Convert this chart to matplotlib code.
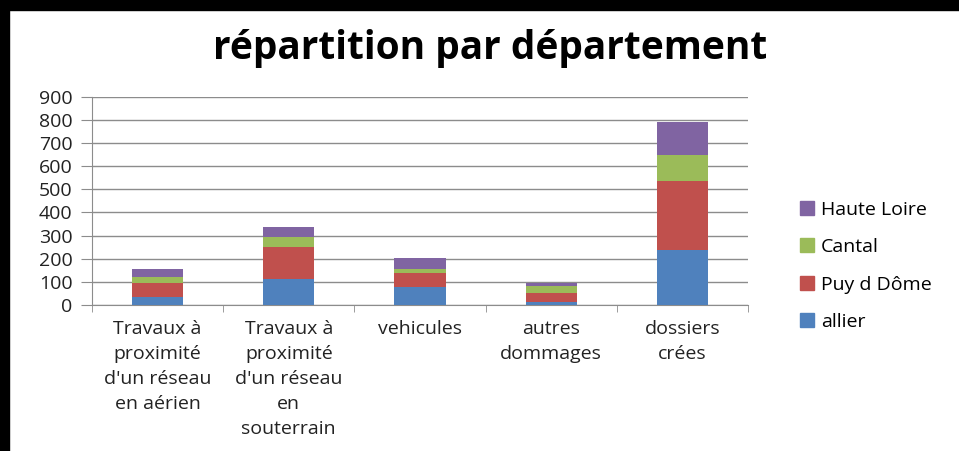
#!/usr/bin/env python3

import numpy as np
import matplotlib.pyplot as plt
from matplotlib.patches import Rectangle
from matplotlib.lines import Line2D

categories = ["Travaux à\nproximité\nd'un réseau\nen aérien",
              "Travaux à\nproximité\nd'un réseau\nen\nsouterrain",
              "vehicules",
              "autres\ndommages",
              "dossiers\ncrées"]

allier = [36, 112, 79, 12, 239]
puy_de_dome = [61, 137, 61, 41, 296]
cantal = [23, 43, 17, 31, 112]
haute_loire = [36, 45, 45, 13, 143]

series = [("allier", allier, "#4f81bd"),
          ("Puy d Dôme", puy_de_dome, "#c0504d"),
          ("Cantal", cantal, "#9bbb59"),
          ("Haute Loire", haute_loire, "#8064a2")]

plt.rcParams['font.family'] = ['Open Sans', 'DejaVu Sans']

fig = plt.figure(figsize=(9.59, 4.51), dpi=100)
ax = fig.add_axes([92 / 959, 1 - 305 / 451, (748 - 92) / 959, (305 - 96.7) / 451])

x = np.arange(len(categories))
bottom = np.zeros(len(categories))
for name, vals, col in series:
    ax.bar(x, vals, bottom=bottom, width=0.39, color=col, label=name, zorder=3)
    bottom = bottom + np.array(vals)

ax.set_xlim(-0.5, len(categories) - 0.5)
ax.set_ylim(0, 900)
ax.set_yticks(range(0, 901, 100))
ax.yaxis.grid(True, color="#8c8c8c", linewidth=1.0, zorder=0)
ax.set_xticks(x)
ax.set_xticklabels(categories, fontsize=14, color="#222222", linespacing=1.5)
ax.tick_params(axis="x", length=0, pad=11)
ax.tick_params(axis="y", length=8, colors="#8c8c8c", labelcolor="#222222",
               labelsize=14, pad=6)
# minor ticks between categories like the original
ax.set_xticks(np.arange(-0.5, len(categories), 1.0), minor=True)
ax.tick_params(axis="x", which="minor", length=5, color="#8c8c8c")
for s in ["top", "right"]:
    ax.spines[s].set_visible(False)
ax.spines["left"].set_color("#8c8c8c")
ax.spines["bottom"].set_color("#8c8c8c")

fig.text(490 / 959, 1 - 49 / 451, "répartition par département",
         ha="center", va="center", fontsize=28, fontweight="bold")

handles = [Line2D([], [], marker="s", linestyle="", markersize=10,
                  color=col) for name, vals, col in series][::-1]
labels = [name for name, vals, col in series][::-1]
fig.legend(handles, labels, loc="center left",
           bbox_to_anchor=(780 / 959, 1 - 266 / 451), frameon=False,
           fontsize=14, labelspacing=1.0, handletextpad=0.2,
           handlelength=1.0)

# black frame on the top and left edges
fig.patches.append(Rectangle((0, 1 - 10 / 451), 1, 10 / 451,
                             transform=fig.transFigure, color="black"))
fig.patches.append(Rectangle((0, 0), 9 / 959, 1,
                             transform=fig.transFigure, color="black"))

fig.savefig("out.png", dpi=100)
